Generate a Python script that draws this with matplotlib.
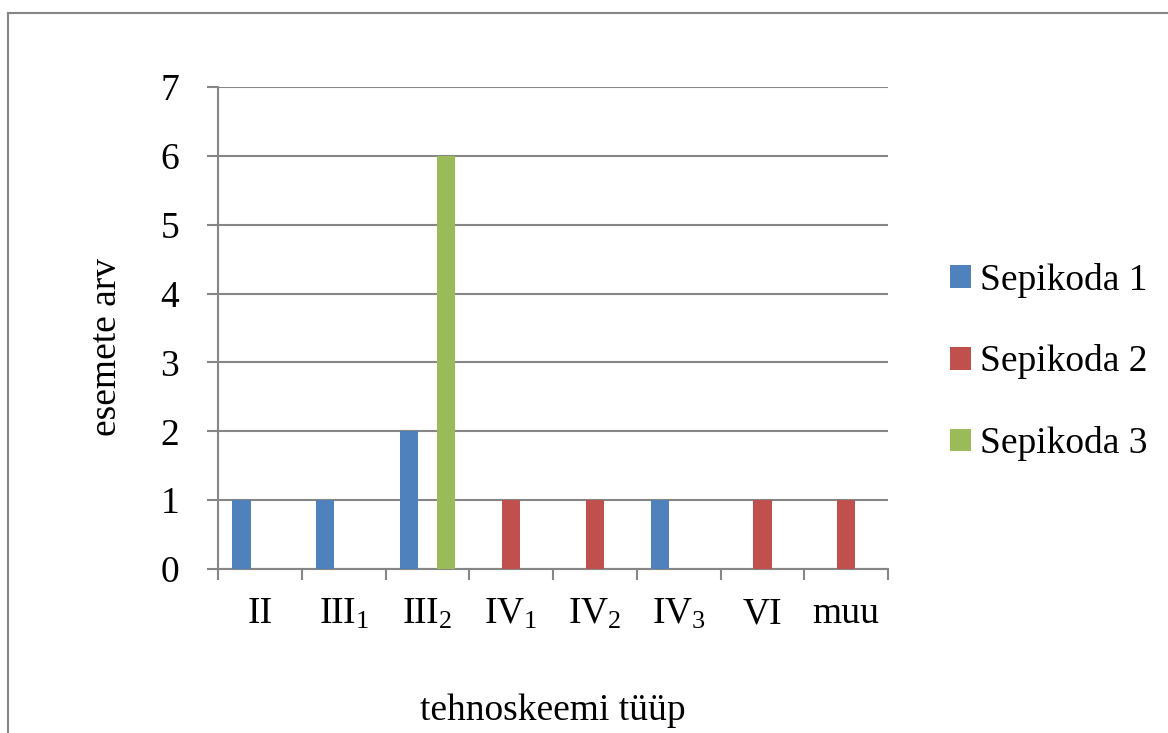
import numpy as np
import matplotlib
matplotlib.use("Agg")
import matplotlib.pyplot as plt
from matplotlib.lines import Line2D

plt.rcParams['font.family'] = ['Liberation Serif', 'DejaVu Serif']
plt.rcParams['mathtext.fontset'] = 'custom'
plt.rcParams['mathtext.rm'] = 'Liberation Serif'
plt.rcParams['mathtext.it'] = 'Liberation Serif'
plt.rcParams['mathtext.default'] = 'rm'

# Andmed
categories = ["II", r"III$_1$", r"III$_2$", r"IV$_1$", r"IV$_2$", r"IV$_3$", "VI", "muu"]
series_names = ["Sepikoda 1", "Sepikoda 2", "Sepikoda 3"]
sepikoda1 = [1, 1, 2, 0, 0, 1, 0, 0]
sepikoda2 = [0, 0, 0, 1, 1, 0, 1, 1]
sepikoda3 = [0, 0, 6, 0, 0, 0, 0, 0]
colors = ["#4F81BD", "#C0504D", "#9BBB59"]

W, H = 1168, 733
fig = plt.figure(figsize=(W / 100, H / 100), dpi=100)
ax = fig.add_axes([218 / W, 1 - 569 / H, 670 / W, 482 / H])

x = np.arange(len(categories))
bw = 0.22
for i, (vals, name) in enumerate(zip([sepikoda1, sepikoda2, sepikoda3], series_names)):
    ax.bar(x + (i - 1) * bw, vals, width=bw, color=colors[i], label=name, zorder=3)

grid_col = "#868686"
ax.set_xlim(-0.5, len(categories) - 0.5)
ax.set_ylim(0, 7)
ax.set_yticks(range(8))
ax.yaxis.grid(True, color=grid_col, linewidth=1.5)
ax.set_axisbelow(True)
for s in ["top", "right"]:
    ax.spines[s].set_visible(False)
for s in ["left", "bottom"]:
    ax.spines[s].set_color(grid_col)
    ax.spines[s].set_linewidth(1.5)

# x tick marks at category boundaries, labels at centres
ax.set_xticks(np.arange(-0.5, len(categories), 1.0))
ax.set_xticklabels([])
ax.set_xticks(x, minor=True)
ax.set_xticklabels(categories, minor=True, fontsize=27)
ax.tick_params(axis="x", which="major", length=8, width=1.5, color=grid_col, direction="out")
ax.tick_params(axis="x", which="minor", length=0, pad=20)
ax.tick_params(axis="y", length=8, width=1.5, color=grid_col, labelsize=27, pad=20)

fig.text(107 / W, 1 - 347 / H, "esemete arv", rotation=90, fontsize=27,
         ha="center", va="center")
fig.text(553 / W, 1 - 711 / H, "tehnoskeemi tüüp", fontsize=27,
         ha="center", va="center")

ax.legend(loc="center left", bbox_to_anchor=(950 / W, 1 - 362 / H),
          bbox_transform=fig.transFigure, frameon=False, fontsize=27,
          handlelength=0.55, handleheight=0.55, handletextpad=0.25,
          labelspacing=1.25, borderpad=0, borderaxespad=0)

# outer frame (top and left edges)
fig.add_artist(Line2D([8 / W, 1], [1 - 13 / H, 1 - 13 / H], color=grid_col, lw=1.5))
fig.add_artist(Line2D([8 / W, 8 / W], [0, 1 - 13 / H], color=grid_col, lw=1.5))

fig.savefig("out.png", dpi=100)
